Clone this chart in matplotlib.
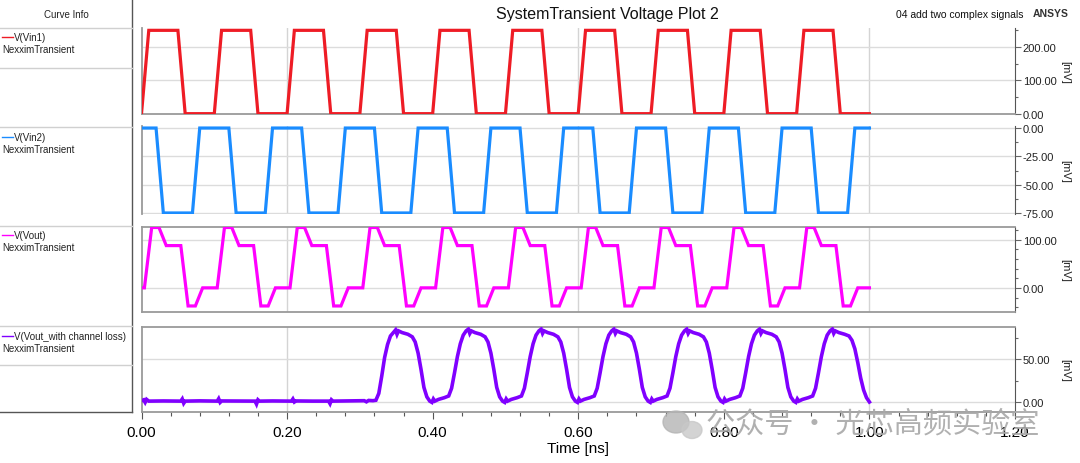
import matplotlib
matplotlib.use('Agg')
import matplotlib.pyplot as plt
from matplotlib.ticker import MultipleLocator, FormatStrFormatter
from matplotlib.patches import Ellipse

plt.rcParams['font.family'] = ['Liberation Sans', 'DejaVu Sans']

# ---- data (time in ns, voltage in mV) ----
vin1_t = [0.00, 0.01, 0.05, 0.06,
          0.10, 0.11, 0.15, 0.16,
          0.20, 0.21, 0.25, 0.26,
          0.30, 0.31, 0.35, 0.36,
          0.40, 0.41, 0.45, 0.46,
          0.50, 0.51, 0.55, 0.56,
          0.60, 0.61, 0.65, 0.66,
          0.70, 0.71, 0.75, 0.76,
          0.80, 0.81, 0.85, 0.86,
          0.90, 0.91, 0.95, 0.96, 1.00]
vin1_v = [0, 250, 250, 0,
          0, 250, 250, 0,
          0, 250, 250, 0,
          0, 250, 250, 0,
          0, 250, 250, 0,
          0, 250, 250, 0,
          0, 250, 250, 0,
          0, 250, 250, 0,
          0, 250, 250, 0,
          0, 250, 250, 0, 0]

vin2_t = [0.00, 0.02, 0.03, 0.07, 0.08,
          0.12, 0.13, 0.17, 0.18,
          0.22, 0.23, 0.27, 0.28,
          0.32, 0.33, 0.37, 0.38,
          0.42, 0.43, 0.47, 0.48,
          0.52, 0.53, 0.57, 0.58,
          0.62, 0.63, 0.67, 0.68,
          0.72, 0.73, 0.77, 0.78,
          0.82, 0.83, 0.87, 0.88,
          0.92, 0.93, 0.97, 0.98, 1.00]
vin2_v = [0, 0, -75, -75, 0,
          0, -75, -75, 0,
          0, -75, -75, 0,
          0, -75, -75, 0,
          0, -75, -75, 0,
          0, -75, -75, 0,
          0, -75, -75, 0,
          0, -75, -75, 0,
          0, -75, -75, 0,
          0, -75, -75, 0, 0]

vout_t = [0.000, 0.004, 0.014, 0.024, 0.034, 0.054, 0.064, 0.074, 0.084,
          0.104, 0.114, 0.124, 0.134, 0.154, 0.164, 0.174, 0.184,
          0.204, 0.214, 0.224, 0.234, 0.254, 0.264, 0.274, 0.284,
          0.304, 0.314, 0.324, 0.334, 0.354, 0.364, 0.374, 0.384,
          0.404, 0.414, 0.424, 0.434, 0.454, 0.464, 0.474, 0.484,
          0.504, 0.514, 0.524, 0.534, 0.554, 0.564, 0.574, 0.584,
          0.604, 0.614, 0.624, 0.634, 0.654, 0.664, 0.674, 0.684,
          0.704, 0.714, 0.724, 0.734, 0.754, 0.764, 0.774, 0.784,
          0.804, 0.814, 0.824, 0.834, 0.854, 0.864, 0.874, 0.884,
          0.904, 0.914, 0.924, 0.934, 0.954, 0.964, 0.974, 0.984, 1.000]
vout_v = [0, 0, 125, 125, 87.5, 87.5, -37.5, -37.5, 0,
          0, 125, 125, 87.5, 87.5, -37.5, -37.5, 0,
          0, 125, 125, 87.5, 87.5, -37.5, -37.5, 0,
          0, 125, 125, 87.5, 87.5, -37.5, -37.5, 0,
          0, 125, 125, 87.5, 87.5, -37.5, -37.5, 0,
          0, 125, 125, 87.5, 87.5, -37.5, -37.5, 0,
          0, 125, 125, 87.5, 87.5, -37.5, -37.5, 0,
          0, 125, 125, 87.5, 87.5, -37.5, -37.5, 0,
          0, 125, 125, 87.5, 87.5, -37.5, -37.5, 0,
          0, 125, 125, 87.5, 87.5, -37.5, -37.5, 0, 0]

vloss_t = [0.000, 0.003, 0.005, 0.007, 0.010, 0.030, 0.054, 0.056, 0.058, 0.060,
           0.080, 0.104, 0.106, 0.108, 0.110, 0.130, 0.156, 0.158, 0.160, 0.162,
           0.180, 0.206, 0.208, 0.210, 0.212, 0.235, 0.257, 0.259, 0.261, 0.263,
           0.285, 0.306, 0.309, 0.312, 0.318,
           # pulse 1
           0.322, 0.326, 0.330, 0.334, 0.338, 0.342, 0.346, 0.349, 0.351, 0.353,
           0.358, 0.366, 0.372, 0.376, 0.380, 0.384, 0.388, 0.392, 0.396, 0.399,
           0.401, 0.403, 0.408, 0.416,
           # pulse 2
           0.422, 0.426, 0.430, 0.434, 0.438, 0.442, 0.446, 0.449, 0.451, 0.453,
           0.458, 0.466, 0.472, 0.476, 0.480, 0.484, 0.488, 0.492, 0.496, 0.499,
           0.501, 0.503, 0.508, 0.516,
           # pulse 3
           0.522, 0.526, 0.530, 0.534, 0.538, 0.542, 0.546, 0.549, 0.551, 0.553,
           0.558, 0.566, 0.572, 0.576, 0.580, 0.584, 0.588, 0.592, 0.596, 0.599,
           0.601, 0.603, 0.608, 0.616,
           # pulse 4
           0.622, 0.626, 0.630, 0.634, 0.638, 0.642, 0.646, 0.649, 0.651, 0.653,
           0.658, 0.666, 0.672, 0.676, 0.680, 0.684, 0.688, 0.692, 0.696, 0.699,
           0.701, 0.703, 0.708, 0.716,
           # pulse 5
           0.722, 0.726, 0.730, 0.734, 0.738, 0.742, 0.746, 0.749, 0.751, 0.753,
           0.758, 0.766, 0.772, 0.776, 0.780, 0.784, 0.788, 0.792, 0.796, 0.799,
           0.801, 0.803, 0.808, 0.816,
           # pulse 6
           0.822, 0.826, 0.830, 0.834, 0.838, 0.842, 0.846, 0.849, 0.851, 0.853,
           0.858, 0.866, 0.872, 0.876, 0.880, 0.884, 0.888, 0.892, 0.896, 0.899,
           0.901, 0.903, 0.908, 0.916,
           # pulse 7
           0.922, 0.926, 0.930, 0.934, 0.938, 0.942, 0.946, 0.949, 0.951, 0.953,
           0.958, 0.966, 0.972, 0.976, 0.980, 0.984, 0.988, 0.992, 0.996, 1.000]
vloss_v = [1.5, 2.5, -0.5, 3.0, 1.0, 1.2, 1.0, 3.5, -1.5, 1.0,
           1.3, 1.0, 3.8, -0.5, 1.2, 1.1, 1.0, -2.5, 2.5, 1.0,
           1.2, 1.0, 3.5, 0.0, 1.2, 1.0, 1.0, -2.0, 2.5, 1.0,
           1.2, 1.5, 0.2, 1.8, 1.5,
           2, 10, 30, 52, 67, 77, 81, 84, 79, 83,
           81, 79, 76, 70, 57, 38, 17, 6, 1, -0.5,
           3.5, 1, 3, 5,
           7, 16, 34, 53, 68, 78, 83, 85, 80, 83,
           81, 79, 76, 70, 57, 38, 17, 6, 1, -0.5,
           3.5, 1, 3, 5,
           7, 16, 34, 53, 68, 78, 83, 85, 80, 83,
           81, 79, 76, 70, 57, 38, 17, 6, 1, -0.5,
           3.5, 1, 3, 5,
           7, 16, 34, 53, 68, 78, 83, 85, 80, 83,
           81, 79, 76, 70, 57, 38, 17, 6, 1, -0.5,
           3.5, 1, 3, 5,
           7, 16, 34, 53, 68, 78, 83, 85, 80, 83,
           81, 79, 76, 70, 57, 38, 17, 6, 1, -0.5,
           3.5, 1, 3, 5,
           7, 16, 34, 53, 68, 78, 83, 85, 80, 83,
           81, 79, 76, 70, 57, 38, 17, 6, 1, -0.5,
           3.5, 1, 3, 5,
           7, 16, 34, 53, 68, 78, 83, 85, 80, 83,
           81, 79, 77, 72, 62, 46, 28, 14, 5, 0]

trace_names = ['V(Vin1)', 'V(Vin2)', 'V(Vout)', 'V(Vout_with channel loss)']
trace_colors = ['#ee1c25', '#1a8cff', '#ff00ff', '#8000ff']
x_ticks = [0.0, 0.2, 0.4, 0.6, 0.8, 1.0, 1.2]
x_grid = [0.2, 0.6, 1.0]

W, H = 1080, 464
fig = plt.figure(figsize=(W / 100, H / 100), dpi=100)


def px_axes(x0, y0, x1, y1):
    return fig.add_axes([x0 / W, 1 - y1 / H, (x1 - x0) / W, (y1 - y0) / H])


panels = [
    dict(t=vin1_t, v=vin1_v, top=29, bot=115, ylim=(-1, 257), major=100, minor=50,
         spines=dict(top=False, bottom=True), lw=2.3),
    dict(t=vin2_t, v=vin2_v, top=127, bot=215, ylim=(-75.9, 1.8), major=25, minor=12.5,
         spines=dict(top=False, bottom=False), lw=2.3),
    dict(t=vout_t, v=vout_v, top=228, bot=313, ylim=(-50, 126), major=100, minor=20,
         spines=dict(top=True, bottom=True), lw=2.3),
    dict(t=vloss_t, v=vloss_v, top=328, bot=413, ylim=(-11.7, 87.5), major=50, minor=25,
         spines=dict(top=True, bottom=True), lw=2.6),
]

axes = []
for i, p in enumerate(panels):
    ax = px_axes(141.5, p['top'], 1015, p['bot'])
    ax.plot(p['t'], p['v'], color=trace_colors[i], lw=p['lw'], solid_joinstyle='miter', zorder=3)
    ax.set_xlim(0, 1.2)
    ax.set_ylim(*p['ylim'])
    for xg in x_grid:
        ax.axvline(xg, color='#d4d4d4', lw=1, zorder=1)
    ax.yaxis.set_major_locator(MultipleLocator(p['major']))
    ax.yaxis.set_minor_locator(MultipleLocator(p['minor']))
    ax.yaxis.set_major_formatter(FormatStrFormatter('%.2f'))
    ax.yaxis.tick_right()
    ax.yaxis.grid(True, which='major', color='#dcdcdc', lw=1, zorder=1)
    ax.tick_params(axis='y', which='major', length=4, width=0.8, color='#666666',
                   labelsize=8, pad=1.5, labelcolor='#222222')
    ax.tick_params(axis='y', which='minor', length=2, width=0.8, color='#666666')
    ax.set_ylabel('[mV]', rotation=270, fontsize=8, color='#222222')
    ax.yaxis.set_label_position('right')
    ax.yaxis.set_label_coords(1.063, 0.5)
    for side in ['left', 'top', 'bottom']:
        ax.spines[side].set_color('#9a9a9a')
        ax.spines[side].set_linewidth(1.3)
    ax.spines['right'].set_color('#555555')
    ax.spines['right'].set_linewidth(0.8)
    ax.spines['top'].set_visible(p['spines']['top'])
    ax.spines['bottom'].set_visible(p['spines']['bottom'])
    if i < 3:
        ax.tick_params(axis='x', which='both', bottom=False, labelbottom=False)
    axes.append(ax)

axb = axes[-1]
axb.set_xticks(x_ticks)
axb.xaxis.set_minor_locator(MultipleLocator(0.04))
axb.xaxis.set_major_formatter(FormatStrFormatter('%.2f'))
axb.tick_params(axis='x', which='major', length=5, width=0.8, color='#555555',
                labelsize=11, pad=4.5)
axb.tick_params(axis='x', which='minor', length=3, width=0.8, color='#555555')
for lbl in axb.get_xticklabels():
    lbl.set_family(['Liberation Sans Narrow', 'Liberation Sans', 'DejaVu Sans'])
axb.set_xlabel('Time [ns]', fontsize=11, labelpad=1.5)

# ---- curve info panel and overlay text (pixel coordinates) ----
ov = fig.add_axes([0, 0, 1, 1], zorder=10)
ov.set_xlim(0, W)
ov.set_ylim(H, 0)
ov.axis('off')

ov.plot([132, 132], [0, 413], color='#555555', lw=1)
ov.plot([0, 132], [413, 413], color='#555555', lw=1)
for ys in [29, 69, 128, 227, 327, 366]:
    ov.plot([0, 132], [ys, ys], color='#d0d0d0', lw=1)
ov.text(66, 15, 'Curve Info', fontsize=7, ha='center', va='center', color='#222222')

entry_y = [38, 138, 236, 337]
for name, col, ey in zip(trace_names, trace_colors, entry_y):
    ov.plot([2, 13], [ey, ey], color=col, lw=1)
    ov.text(14, ey, name, fontsize=7, va='center', color='#222222')
    ov.text(2, ey + 12, 'NexximTransient', fontsize=7, va='center', color='#222222')

fig.text(607 / W, 1 - 15 / H, 'SystemTransient Voltage Plot 2', fontsize=11.5,
         ha='center', va='center', color='#111111')
fig.text(1023 / W, 1 - 15 / H, '04 add two complex signals', fontsize=7.5,
         ha='right', va='center', color='#111111')
fig.text(1033 / W, 1 - 14 / H, 'ANSYS', fontsize=7.5, fontweight='bold',
         ha='left', va='center', color='#333333')

# watermark
ov.add_patch(Ellipse((676, 423), 26, 22, color='#b4b4b4', alpha=0.8))
ov.add_patch(Ellipse((692, 431), 20, 17, color='#c8c8c8', alpha=0.8))
ov.text(706, 425, '公众号 · 光芯高频实验室', fontsize=21, color='#a8a8a8', alpha=0.9,
        va='center', ha='left', family=['Noto Sans CJK SC', 'DejaVu Sans'])

fig.savefig('out.png', dpi=100)
